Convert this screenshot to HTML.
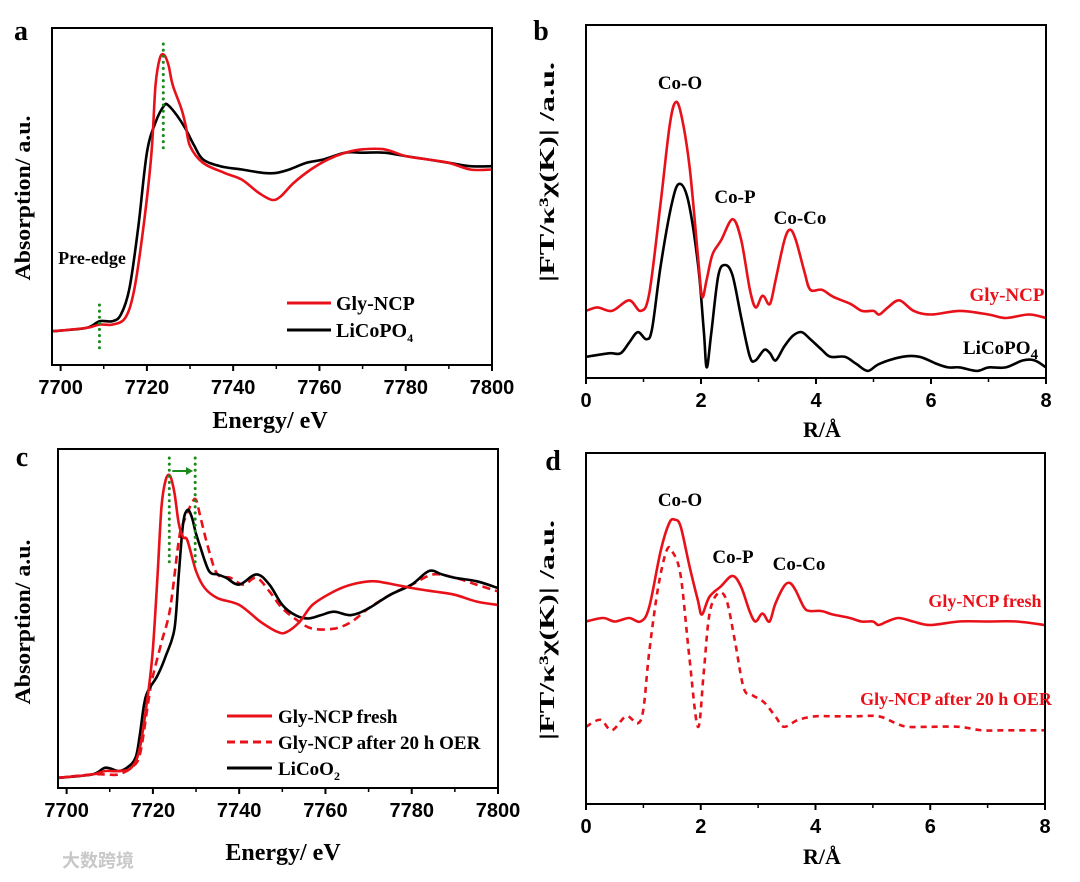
<!DOCTYPE html>
<html><head><meta charset="utf-8"><style>
html,body{margin:0;padding:0;background:#fff;}
svg{display:block;}
text{font-family:"Liberation Serif",serif;font-weight:bold;}
.tick{font-family:"Liberation Sans",sans-serif;font-weight:bold;font-size:20px;}
</style></head><body>
<svg id="fig" width="1080" height="882" viewBox="0 0 1080 882" xmlns="http://www.w3.org/2000/svg"></svg>
<script>
// ---------- Panel a data ----------
const aEnergyRed=[7698,7706,7709,7712,7715,7717,7719,7721,7722,7723,7724,7725,7726,7728,7729,7730,7733,7738,7742,7746,7749,7751,7754,7758,7762,7766,7770,7775,7780,7785,7790,7795,7800];
const aGlyNCP=[0.10,0.11,0.12,0.12,0.14,0.22,0.39,0.62,0.83,0.91,0.92,0.89,0.83,0.76,0.71,0.65,0.60,0.57,0.55,0.51,0.49,0.50,0.54,0.58,0.61,0.63,0.64,0.64,0.62,0.61,0.60,0.58,0.58];
const aEnergyBlack=[7698,7706,7709,7712,7714,7716,7718,7720,7722,7724,7725,7727,7729,7731,7733,7737,7742,7747,7750,7753,7757,7761,7766,7770,7775,7780,7785,7790,7795,7800];
const aLiCoPO4=[0.10,0.11,0.13,0.13,0.15,0.23,0.41,0.63,0.72,0.77,0.77,0.74,0.70,0.65,0.61,0.59,0.58,0.57,0.57,0.58,0.60,0.61,0.63,0.63,0.63,0.62,0.61,0.60,0.59,0.59];
const aTicks=[7700,7720,7740,7760,7780,7800];
// ---------- Panel b data ----------
const bRRed=[0,0.2,0.45,0.75,0.95,1.1,1.3,1.45,1.55,1.65,1.8,1.95,2.02,2.1,2.2,2.35,2.55,2.7,2.85,2.95,3.05,3.1,3.2,3.3,3.45,3.55,3.65,3.8,3.9,4.1,4.3,4.6,4.8,5.0,5.1,5.25,5.45,5.7,6.0,6.5,7.0,7.3,7.7,8.0];
const bGlyNCP=[0.19,0.20,0.19,0.22,0.19,0.24,0.50,0.71,0.78,0.75,0.60,0.34,0.23,0.28,0.35,0.39,0.45,0.39,0.25,0.20,0.23,0.23,0.21,0.28,0.39,0.42,0.39,0.30,0.25,0.25,0.23,0.21,0.19,0.19,0.18,0.20,0.22,0.19,0.18,0.19,0.18,0.17,0.18,0.17];
const bRBlack=[0,0.4,0.6,0.75,0.9,1.05,1.15,1.3,1.5,1.63,1.78,1.95,2.05,2.1,2.18,2.3,2.42,2.55,2.7,2.85,2.95,3.1,3.2,3.3,3.45,3.6,3.75,3.9,4.1,4.25,4.5,4.7,4.9,5.1,5.5,5.8,6.1,6.3,6.5,6.8,7.0,7.3,7.6,7.8,8.0];
const bLiCoPO4=[0.06,0.07,0.07,0.10,0.13,0.11,0.14,0.32,0.50,0.55,0.50,0.32,0.13,0.03,0.13,0.29,0.32,0.29,0.17,0.06,0.05,0.08,0.07,0.05,0.09,0.12,0.13,0.11,0.08,0.06,0.06,0.04,0.02,0.04,0.06,0.06,0.04,0.03,0.03,0.02,0.03,0.03,0.05,0.05,0.03];
const rTicks=[0,2,4,6,8];
// ---------- Panel c data ----------
const cEnergyFresh=[7698,7706,7709,7712,7715,7717,7719,7720,7721,7722,7723,7724,7725,7726,7727,7728,7730,7732,7735,7740,7745,7749,7751,7754,7757,7762,7766,7771,7776,7780,7785,7790,7795,7800];
const cFresh=[0.03,0.04,0.05,0.05,0.06,0.12,0.29,0.41,0.61,0.83,0.91,0.92,0.87,0.78,0.74,0.73,0.64,0.59,0.56,0.54,0.49,0.46,0.46,0.49,0.54,0.58,0.60,0.61,0.60,0.59,0.58,0.57,0.55,0.54];
const cEnergyOER=[7698,7706,7709,7712,7715,7717,7719,7720,7722,7724,7726,7727,7729,7730,7731,7733,7735,7738,7741,7744,7747,7750,7754,7757,7762,7766,7770,7775,7780,7785,7790,7795,7800];
const cAfterOER=[0.03,0.04,0.04,0.04,0.06,0.10,0.26,0.33,0.43,0.53,0.73,0.78,0.84,0.85,0.80,0.70,0.63,0.62,0.60,0.62,0.58,0.53,0.49,0.47,0.47,0.49,0.53,0.57,0.60,0.63,0.62,0.60,0.58];
const cEnergyLCO=[7698,7706,7709,7712,7714,7716,7717,7718,7719,7721,7723,7725,7726,7727,7728,7729,7730,7731,7733,7735,7737,7740,7744,7747,7750,7753,7756,7759,7762,7766,7770,7775,7780,7784,7787,7790,7795,7800];
const cLiCoO2=[0.03,0.04,0.06,0.05,0.06,0.09,0.16,0.25,0.29,0.33,0.39,0.47,0.63,0.78,0.82,0.80,0.75,0.71,0.64,0.63,0.62,0.60,0.63,0.60,0.54,0.51,0.50,0.51,0.52,0.51,0.53,0.57,0.60,0.64,0.63,0.62,0.61,0.59];
// ---------- Panel d data ----------
const dRFresh=[0,0.3,0.5,0.75,0.95,1.1,1.3,1.45,1.55,1.65,1.8,1.95,2.02,2.15,2.35,2.55,2.7,2.85,2.95,3.05,3.1,3.2,3.3,3.45,3.55,3.65,3.8,3.9,4.1,4.3,4.6,4.8,5.0,5.1,5.25,5.45,5.7,6.0,6.5,7.0,7.5,8.0];
const dFresh=[0.52,0.53,0.52,0.53,0.52,0.56,0.72,0.80,0.81,0.79,0.68,0.58,0.54,0.59,0.62,0.65,0.62,0.55,0.52,0.54,0.54,0.52,0.57,0.62,0.63,0.61,0.56,0.55,0.55,0.54,0.53,0.52,0.52,0.51,0.52,0.53,0.52,0.51,0.52,0.52,0.52,0.51];
const dROER=[0,0.25,0.45,0.7,0.9,1.0,1.1,1.25,1.4,1.5,1.65,1.8,1.95,2.05,2.15,2.3,2.45,2.6,2.75,2.9,3.1,3.3,3.45,3.7,4.0,4.3,4.7,5.1,5.4,5.6,6.0,6.5,6.9,7.3,8.0];
const dAfterOER=[0.22,0.24,0.21,0.25,0.23,0.27,0.43,0.61,0.72,0.72,0.65,0.42,0.22,0.37,0.54,0.60,0.58,0.46,0.33,0.31,0.29,0.25,0.22,0.24,0.25,0.25,0.25,0.25,0.23,0.22,0.22,0.22,0.21,0.21,0.21];

const NS="http://www.w3.org/2000/svg";
const svg=document.getElementById('fig');
function mk(tag,attrs,parent){const e=document.createElementNS(NS,tag);for(const k in attrs)e.setAttribute(k,attrs[k]);(parent||svg).appendChild(e);return e;}
function txt(s,x,y,size,fill,anchor,parent){const t=mk('text',{x:x,y:y,'font-size':size,fill:fill||'#000','text-anchor':anchor||'middle'},parent);t.textContent=s;return t;}
function smoothPath(px){let d='M'+px[0][0].toFixed(1)+','+px[0][1].toFixed(1);
  for(let i=0;i<px.length-1;i++){const p0=px[i-1]||px[i],p1=px[i],p2=px[i+1],p3=px[i+2]||p2;
    const c1=[p1[0]+(p2[0]-p0[0])/6,p1[1]+(p2[1]-p0[1])/6],c2=[p2[0]-(p3[0]-p1[0])/6,p2[1]-(p3[1]-p1[1])/6];
    d+=' C'+c1[0].toFixed(1)+','+c1[1].toFixed(1)+' '+c2[0].toFixed(1)+','+c2[1].toFixed(1)+' '+p2[0].toFixed(1)+','+p2[1].toFixed(1);}
  return d;}
function panel(o){
  const g=mk('g',{});
  
  
  const sx=v=>o.x0+(v-o.xmin)/(o.xmax-o.xmin)*(o.x1-o.x0);
  const sy=v=>o.y1-v*(o.y1-o.y0);
  o.series.forEach(s=>{
    const pts=s.x.map((xv,i)=>[sx(xv),sy(s.y[i])]);
    const p=mk('path',{d:smoothPath(pts),fill:'none',stroke:s.color,'stroke-width':2.6,'stroke-dasharray':s.dash||'none','stroke-linejoin':'round'},g);
    
    
  });
  const box=mk('rect',{x:o.x0,y:o.y0,width:o.x1-o.x0,height:o.y1-o.y0,fill:'none',stroke:'#000','stroke-width':2},g);
  
  
  o.ticks.forEach((t,i)=>{
    const x=sx(t);
    mk('line',{x1:x,x2:x,y1:o.y1,y2:o.y1+6,stroke:'#000','stroke-width':2},g);
    const lab=txt(String(t),x,o.y1+29,20,'#000','middle',g);
    lab.setAttribute('class','tick');
    
    
    if(i<o.ticks.length-1){const xm=sx((t+o.ticks[i+1])/2);mk('line',{x1:xm,x2:xm,y1:o.y1,y2:o.y1+4,stroke:'#000','stroke-width':1.5},g);}
  });
  return {sx,sy,g};
}
function ytitle(s,x,y,size,len,adj){const t=txt(s,0,0,size,'#000','middle');t.setAttribute('transform','translate('+x+','+y+') rotate(-90)');t.setAttribute('textLength',len);t.setAttribute('lengthAdjust',adj);return t;}
// Panel a
const A=panel({name:'panel-a',x0:52,x1:492,y0:28,y1:365,xmin:7698,xmax:7800,ticks:aTicks,series:[
  {x:aEnergyBlack,y:aLiCoPO4,color:'#000',name:'line-licopo4'},
  {x:aEnergyRed,y:aGlyNCP,color:'#e8111a',name:'line-gly-ncp'}]});
mk('line',{x1:A.sx(7723.8),x2:A.sx(7723.8),y1:44,y2:152,stroke:'#1a8a1a','stroke-width':3,'stroke-dasharray':'0.1 6','stroke-linecap':'round'},A.g);
mk('line',{x1:A.sx(7709),x2:A.sx(7709),y1:305,y2:352,stroke:'#1a8a1a','stroke-width':3,'stroke-dasharray':'0.1 6','stroke-linecap':'round'},A.g);
txt('Pre-edge',92,264,18,'#000','middle',A.g);
mk('line',{x1:287,x2:331,y1:303,y2:303,stroke:'#e8111a','stroke-width':3},A.g);
mk('line',{x1:287,x2:331,y1:330,y2:330,stroke:'#000','stroke-width':3},A.g);
txt('Gly-NCP',336,310,20,'#000','start',A.g);
const lt=txt('LiCoPO',336,337,20,'#000','start',A.g);const sb=mk('tspan',{dy:5,'font-size':12},lt);sb.textContent='4';
txt('a',21,40,28,'#000','middle');
ytitle('Absorption/ a.u.',30,198,22,165,'spacingAndGlyphs');
txt('Energy/ eV',270,428,24,'#000','middle');
// Panel b
const B=panel({name:'panel-b',x0:586,x1:1046,y0:25,y1:378,xmin:0,xmax:8,ticks:rTicks,series:[
  {x:bRBlack,y:bLiCoPO4,color:'#000',name:'line-licopo4-ft'},
  {x:bRRed,y:bGlyNCP,color:'#e8111a',name:'line-gly-ncp-ft'}]});
txt('Co-O',680,89,19,'#000','middle',B.g);
txt('Co-P',735,203,19,'#000','middle',B.g);
txt('Co-Co',800,224,19,'#000','middle',B.g);
txt('Gly-NCP',1007,301,19,'#e8111a','middle',B.g);
const lb=txt('LiCoPO',963,354,19,'#000','start',B.g);const sb2=mk('tspan',{dy:5,'font-size':15},lb);sb2.textContent='4';
txt('b',541,40,28,'#000','middle');
ytitle('|FT/κ³χ(K)| /a.u.',554,172,21,220,'spacingAndGlyphs');
txt('R/Å',822,437,22,'#000','middle');
// Panel c
const C=panel({name:'panel-c',x0:58,x1:498,y0:449,y1:788,xmin:7698,xmax:7800,ticks:aTicks,series:[
  {x:cEnergyOER,y:cAfterOER,color:'#e8111a',dash:'8 5',name:'line-after-oer'},
  {x:cEnergyLCO,y:cLiCoO2,color:'#000',name:'line-licoo2'},
  {x:cEnergyFresh,y:cFresh,color:'#e8111a',name:'line-fresh'}]});
[7723.8,7729.8].forEach(e=>mk('line',{x1:C.sx(e),x2:C.sx(e),y1:458,y2:566,stroke:'#1a8a1a','stroke-width':3,'stroke-dasharray':'0.1 6','stroke-linecap':'round'},C.g));
mk('line',{x1:C.sx(7724.5),x2:C.sx(7728.3),y1:471,y2:471,stroke:'#1a8a1a','stroke-width':2},C.g);
mk('path',{d:`M${C.sx(7729.3)},471 l-7,-4 v8 z`,fill:'#1a8a1a'},C.g);
mk('line',{x1:227,x2:272,y1:716,y2:716,stroke:'#e8111a','stroke-width':3},C.g);
mk('line',{x1:227,x2:272,y1:742,y2:742,stroke:'#e8111a','stroke-width':3,'stroke-dasharray':'8 5'},C.g);
mk('line',{x1:227,x2:272,y1:768,y2:768,stroke:'#000','stroke-width':3},C.g);
txt('Gly-NCP fresh',278,723,19,'#000','start',C.g);
txt('Gly-NCP after 20 h OER',278,749,19,'#000','start',C.g);
const lc=txt('LiCoO',278,775,19,'#000','start',C.g);const sb3=mk('tspan',{dy:5,'font-size':12},lc);sb3.textContent='2';
txt('c',22,466,28,'#000','middle');
ytitle('Absorption/ a.u.',30,622,22,165,'spacingAndGlyphs');
txt('Energy/ eV',283,860,24,'#000','middle');
// Panel d
const D=panel({name:'panel-d',x0:586,x1:1045,y0:453,y1:804,xmin:0,xmax:8,ticks:rTicks,series:[
  {x:dROER,y:dAfterOER,color:'#e8111a',dash:'6 5',name:'line-after-oer-ft'},
  {x:dRFresh,y:dFresh,color:'#e8111a',name:'line-fresh-ft'}]});
txt('Co-O',680,506,19,'#000','middle',D.g);
txt('Co-P',733,563,19,'#000','middle',D.g);
txt('Co-Co',799,570,19,'#000','middle',D.g);
txt('Gly-NCP fresh',985,607,18,'#e8111a','middle',D.g);
txt('Gly-NCP after 20 h OER',956,705,18,'#e8111a','middle',D.g);
txt('d',553,470,28,'#000','middle');
ytitle('|FT/κ³χ(K)| /a.u.',554,630,21,220,'spacingAndGlyphs');
txt('R/Å',822,864,22,'#000','middle');
// watermark
const wm=txt('大数跨境',98,867,18,'#c8c8c8','middle');
wm.setAttribute('style','font-family:"Noto Sans CJK SC",sans-serif');


</script>
</body></html>
